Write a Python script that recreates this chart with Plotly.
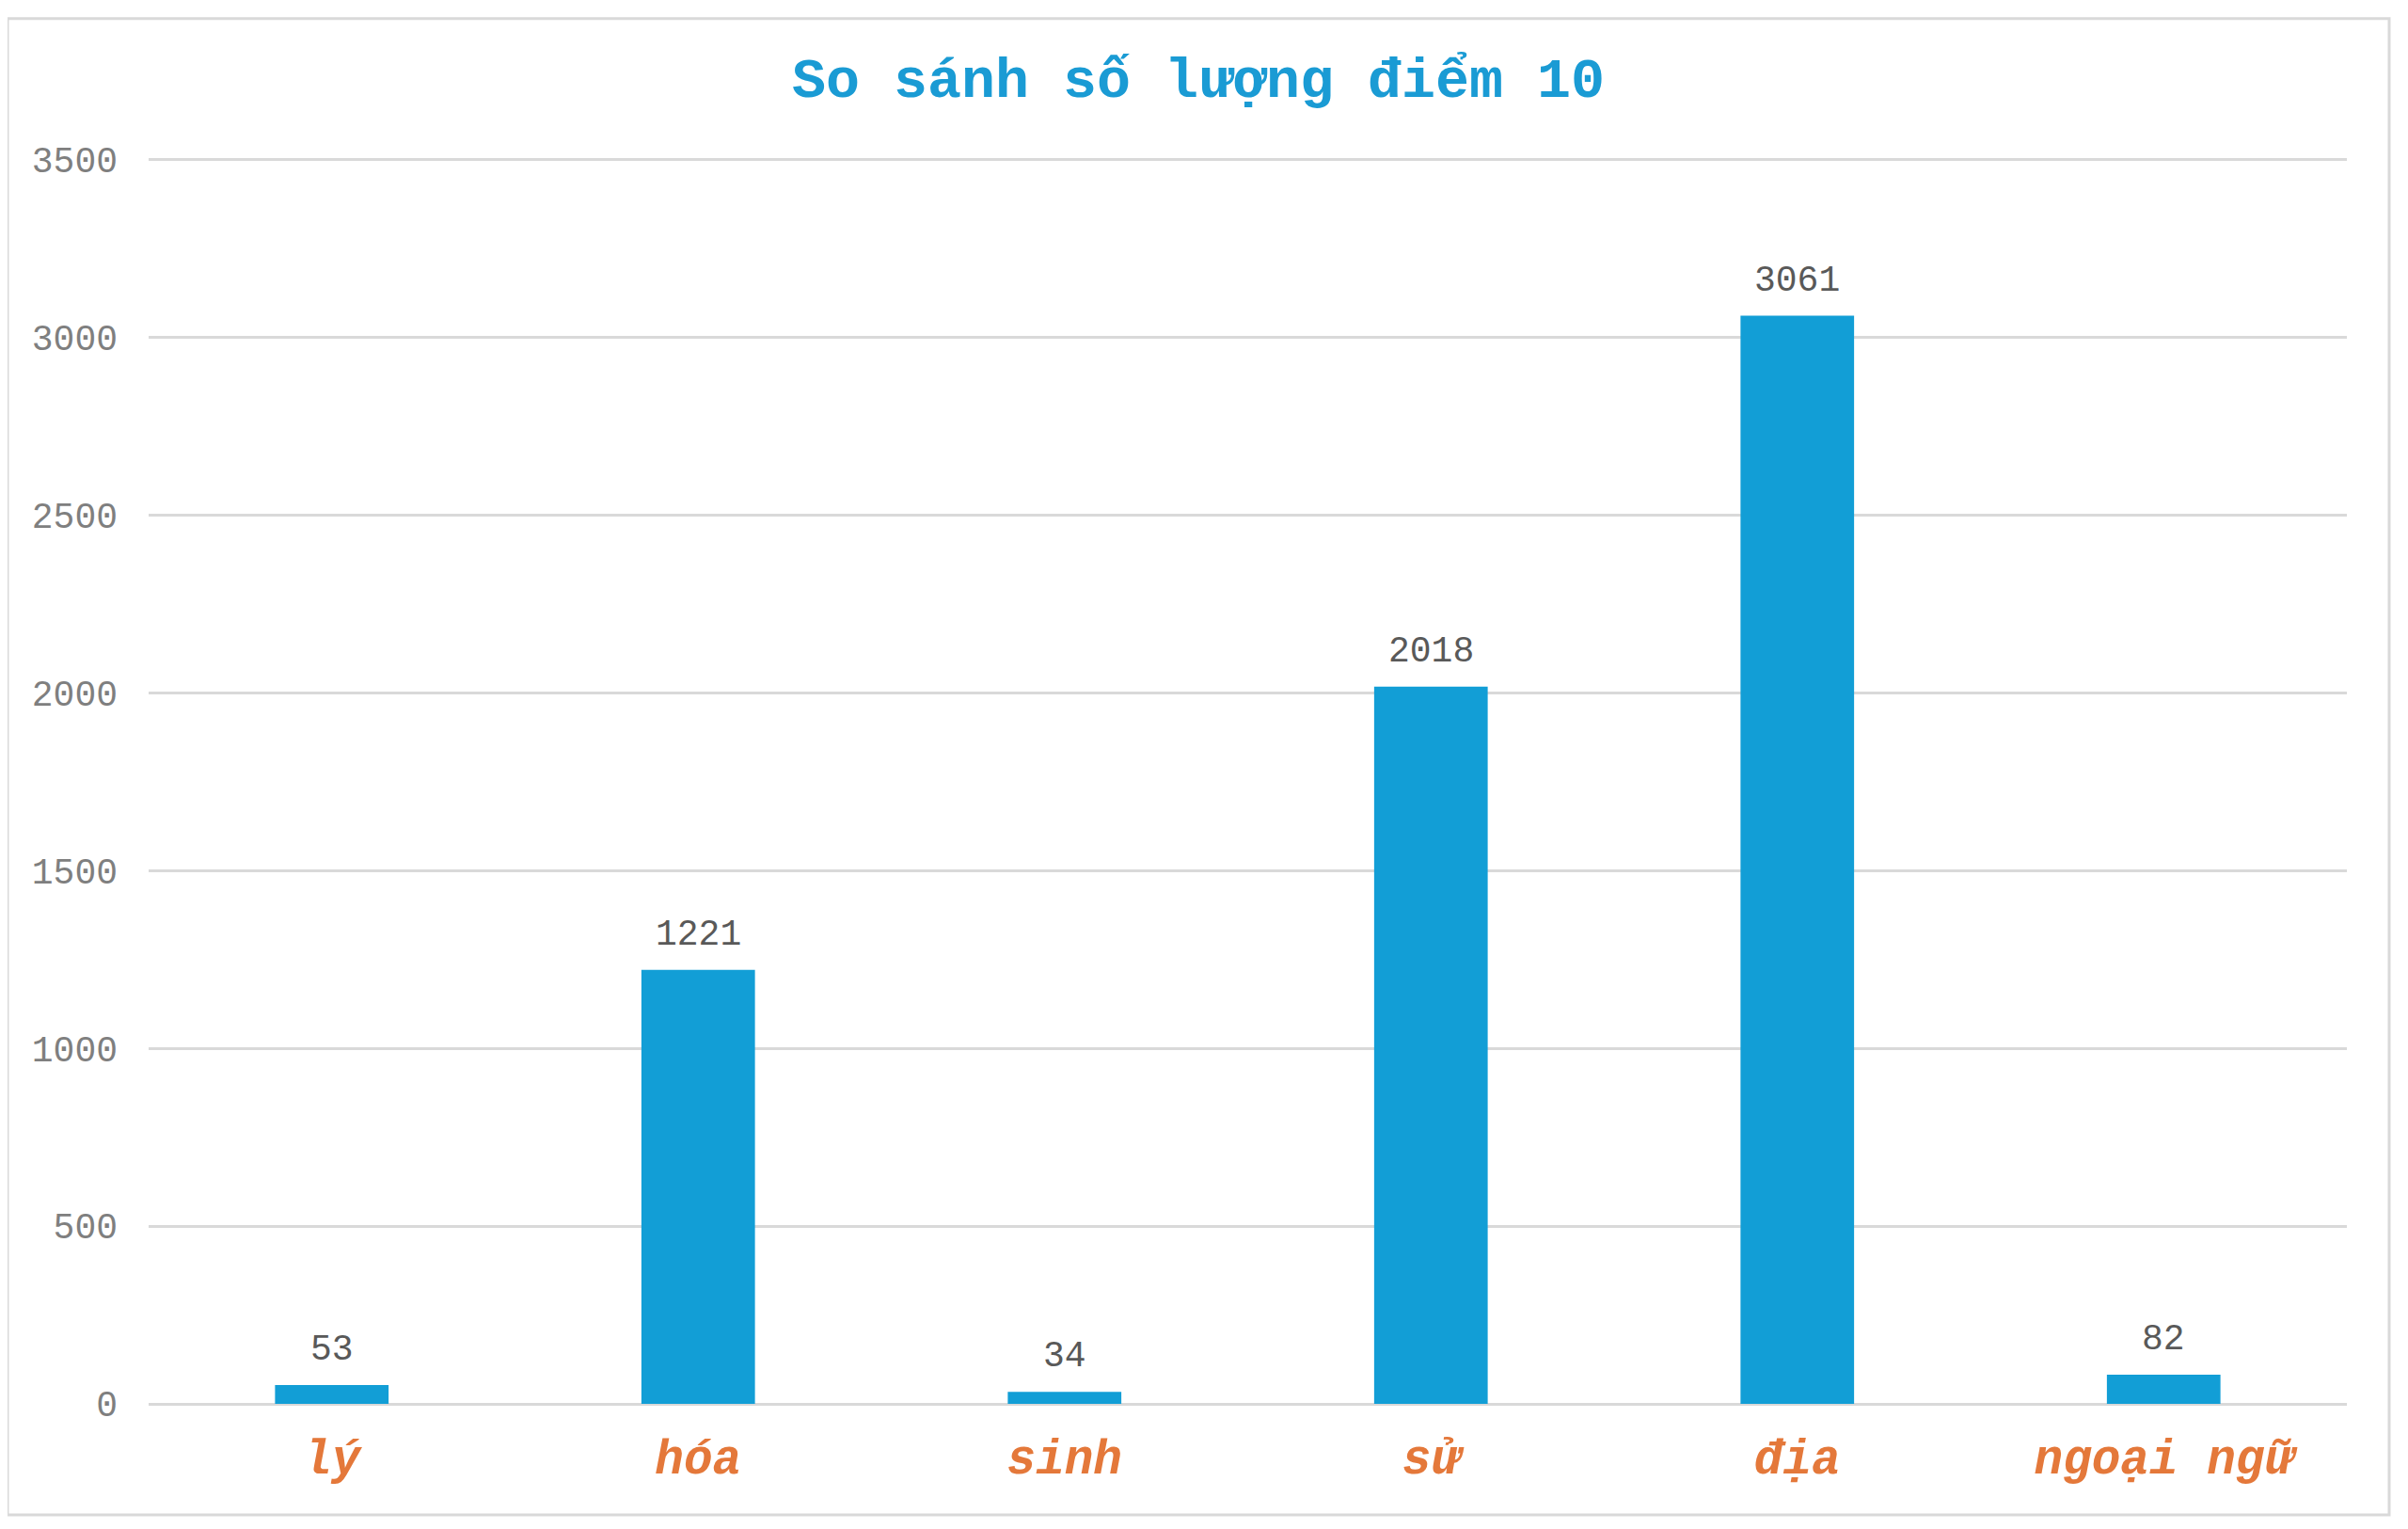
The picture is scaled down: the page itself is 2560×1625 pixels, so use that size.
import plotly.graph_objects as go

categories = ["lý", "hóa", "sinh", "sử", "địa", "ngoại ngữ"]
values = [53, 1221, 34, 2018, 3061, 82]
y_ticks = [0, 500, 1000, 1500, 2000, 2500, 3000, 3500]
title_text = "So sánh số lượng điểm 10"

OFF = 8  # page body margin
W, H = 2560 - 2 * OFF, 1625 - 2 * OFF
Y_TOP = 3510
# target page pixels: plot x 158..2495, y(3500)=170, y(0)=1492
px_per_unit = (1492 - 170) / 3500.0
plot_h = px_per_unit * Y_TOP
L = 158 - OFF
R = W - (2495 - OFF)
B = H - (1492 - OFF)
T = H - B - plot_h
pw, ph = W - L - R, plot_h

fig = go.Figure()
fig.add_trace(go.Bar(
    x=categories, y=values,
    marker=dict(color="#129ED6", line=dict(width=0)),
    width=0.31,
    hoverinfo="x+y",
))

for c, v in zip(categories, values):
    fig.add_annotation(
        x=c, y=v, xref="x", yref="y", text=str(v), showarrow=False,
        yanchor="bottom", yshift=14,
        font=dict(family="Liberation Mono", size=38, color="#595959"),
    )

def px_x(p):
    return (p - OFF - L) / pw

def px_y(p):
    return (H - B - (p - OFF)) / ph

fig.add_shape(type="rect", xref="paper", yref="paper",
              x0=px_x(8), x1=px_x(2540), y0=px_y(1610), y1=px_y(20),
              line=dict(color="#D9D9D9", width=3), fillcolor="rgba(0,0,0,0)", layer="below")

fig.update_layout(
    width=W, height=H,
    margin=dict(l=L, r=R, t=T, b=B, pad=0),
    paper_bgcolor="white", plot_bgcolor="white",
    showlegend=False,
    bargap=0.69,
    title=dict(text=title_text, x=(1274 - OFF) / W, xanchor="center", y=1 - (82 - OFF) / H, yanchor="middle",
               xref="container", yref="container",
               font=dict(family="Liberation Mono", size=60, color="#1A9BD4", weight="bold")),
    xaxis=dict(
        showgrid=False, showline=False, zeroline=False, ticks="",
        tickfont=dict(family="Liberation Mono", size=51, color="#E4783A", weight="bold", style="italic"),
        ticklabelstandoff=22,
    ),
    yaxis=dict(
        range=[0, Y_TOP], tickvals=y_ticks, ticktext=[str(t) for t in y_ticks],
        showgrid=True, gridcolor="#D9D9D9", gridwidth=3,
        zeroline=True, zerolinecolor="#D9D9D9", zerolinewidth=3,
        showline=False, ticks="",
        tickfont=dict(family="Liberation Mono", size=38, color="#7F7F7F"),
        ticklabelstandoff=32,
    ),
)

fig.write_html("out.html")
